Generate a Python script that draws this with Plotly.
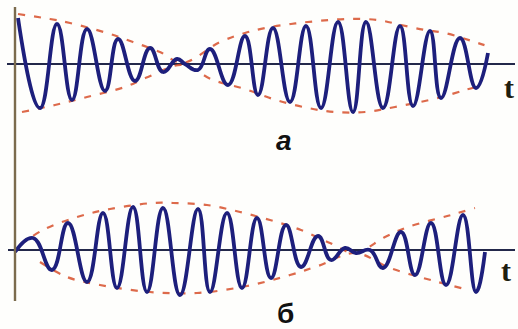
import plotly.graph_objects as go
from plotly.subplots import make_subplots

# ---- Panel "а": beats, time / displacement of the extrema
a_t = [3, 25, 42, 57, 72, 90, 103, 120, 135, 148, 162, 170, 183, 195, 213, 230, 243,
       258, 275, 291, 306, 323, 338, 351, 368, 385, 398, 415, 426, 445, 461, 473]
a_y = [46, -44, 40, -36, 35, -27, 25, -17, 16, -8, 5, 0, -6, 15, -21, 28, -31,
       36, -38, 38, -44, 42, -48, 42, -44, 38, -42, 33, -34, 26, -24, 11]
a_env_up_t = [3, 35, 55, 92, 118, 145, 167, 205, 230, 250, 276, 303, 333, 363, 386, 410, 430, 463, 475]
a_env_up_y = [50, 45, 41, 31, 22, 12, 1, 22, 31, 36, 40, 43, 45, 44, 39, 34, 31, 21, 17]
a_env_lo_t = [7, 40, 72, 110, 133, 167, 198, 230, 261, 293, 320, 350, 380, 423, 450, 465]
a_env_lo_y = [-48, -41, -33, -23, -13, -1, -16, -25, -36, -44, -48, -48, -43, -34, -26, -22]

# ---- Panel "б"
b_t = [0, 18, 37, 53, 72, 88, 102, 118, 132, 148, 165, 183, 195, 212, 227, 242, 256,
       271, 286, 303, 316, 330, 341, 355, 368, 386, 400, 416, 431, 448, 461, 470]
b_y = [-2, 12, -20, 27, -32, 37, -38, 43, -42, 42, -45, 41, -42, 37, -38, 32, -28,
       25, -17, 14, -10, 2, -3, 0, -18, 18, -25, 27, -35, 35, -42, -2]
b_env_up_t = [5, 28, 62, 95, 138, 158, 192, 225, 255, 286, 315, 340, 370, 393, 436, 460]
b_env_up_y = [5, 20, 33, 41, 47, 47, 45, 38, 30, 20, 7, -3, 13, 23, 35, 42]
b_env_lo_t = [25, 52, 85, 135, 182, 232, 275, 303, 340, 375, 423, 450]
b_env_lo_y = [-12, -27, -35, -42, -43, -36, -25, -16, -3, -18, -32, -39]

labels = {"a": "а", "b": "б", "axis": "t"}

BLUE = "#1d1f7c"
RED = "#d7502c"
AXIS = "#23284a"
VAXIS = "#7b6b4d"

fig = make_subplots(rows=2, cols=1)

def add_panel(row, tt, yy, ut, uy, lt, ly):
    for et, ey in ((ut, uy), (lt, ly)):
        fig.add_trace(go.Scatter(x=et, y=ey, mode="lines",
                                 line=dict(color=RED, width=2.2, dash="7px,9px", shape="spline"),
                                 opacity=0.85, hoverinfo="skip", showlegend=False), row=row, col=1)
    fig.add_trace(go.Scatter(x=tt, y=yy, mode="lines",
                             line=dict(color=BLUE, width=3.8, shape="spline", smoothing=1.3),
                             hoverinfo="skip", showlegend=False), row=row, col=1)

add_panel(1, a_t, a_y, a_env_up_t, a_env_up_y, a_env_lo_t, a_env_lo_y)
add_panel(2, b_t, b_y, b_env_up_t, b_env_up_y, b_env_lo_t, b_env_lo_y)

H = 329.0
ax = dict(visible=False, range=[-15, 503], fixedrange=True)
fig.update_layout(
    width=518, height=329, margin=dict(l=0, r=0, t=0, b=0),
    paper_bgcolor="#fefefc", plot_bgcolor="#fefefc",
    xaxis=dict(ax, domain=[0, 1]), xaxis2=dict(ax, domain=[0, 1]),
    yaxis=dict(visible=False, domain=[1 - 160 / H, 1], range=[-96, 64], fixedrange=True),
    yaxis2=dict(visible=False, domain=[0, 169 / H], range=[-79, 90], fixedrange=True),
    hovermode=False,
)

shapes = [
    dict(type="line", xref="x", yref="y", x0=-8, x1=500, y0=0, y1=0,
         line=dict(color=AXIS, width=2.2), layer="below"),
    dict(type="line", xref="x2", yref="y2", x0=-7, x1=500, y0=0, y1=0,
         line=dict(color=AXIS, width=2.2), layer="below"),
    dict(type="line", xref="x", yref="paper", x0=0, x1=0, y0=1 - 301 / H, y1=1 - 7 / H,
         line=dict(color=VAXIS, width=2.4), layer="above"),
]
fig.update_layout(shapes=shapes)

fnt_t = dict(family="Liberation Serif", size=30, color="#1e1e10")
fnt_l = dict(family="Liberation Sans", size=28, color="#111111")
fig.add_annotation(x=494, y=-23, xref="x", yref="y", text="<b>" + labels["axis"] + "</b>",
                   showarrow=False, font=fnt_t)
fig.add_annotation(x=491, y=-20, xref="x2", yref="y2", text="<b>" + labels["axis"] + "</b>",
                   showarrow=False, font=fnt_t)
fig.add_annotation(x=269, y=-76, xref="x", yref="y", text="<b><i>" + labels["a"] + "</i></b>",
                   showarrow=False, font=fnt_l)
fig.add_annotation(x=270, y=-63, xref="x2", yref="y2", text="<b>" + labels["b"] + "</b>",
                   showarrow=False, font=fnt_l)

fig.write_html("out.html", config={"displayModeBar": False, "staticPlot": True},
               post_script="document.body.style.margin='0';document.body.style.overflow='hidden';")
